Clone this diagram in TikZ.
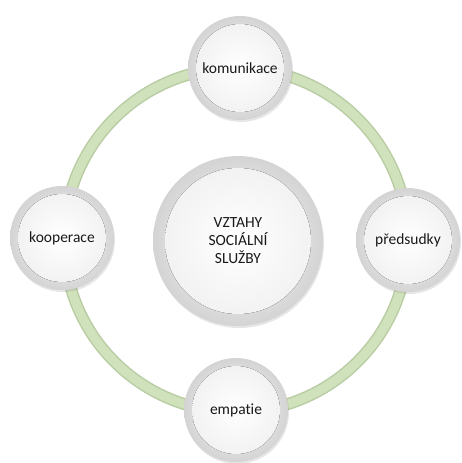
\documentclass[tikz,border=0pt]{standalone}
\usepackage{fontspec}
\setmainfont[Ligatures={NoCommon}]{Carlito}
\usetikzlibrary{shadows}
\definecolor{ringfill}{HTML}{D0E2BB}
\definecolor{ringedge}{HTML}{B9CCA3}
\tikzstyle{button}=[circle, inner sep=0pt, font=\fontsize{15}{18}\selectfont,
  align=center, text=black!85, drop shadow={shadow xshift=1pt, shadow yshift=-2pt, opacity=0.2},
  outer color=black!17, inner color=white]

\begin{document}
\begin{tikzpicture}[x=1pt, y=-1pt]
\useasboundingbox (0,0) rectangle (461,463);
% Ring
    \coordinate (mid) at (236,240);
    \draw[line width=12pt, ringedge] (mid) circle(172);
    \draw[line width=9pt, ringfill] (mid) circle(172);
% Buttons
    \node[button, minimum size=104pt] (kom) at (240,68) {};
    \node[button, minimum size=104pt] (pre) at (408,240) {};
    \node[button, minimum size=104pt] (emp) at (236,410) {};
    \node[button, minimum size=104pt] (koo) at (62,238) {};
    \node[button, minimum size=170pt] (vzt) at (238,241) {};
% Faces
    \fill[inner color=white, outer color=black!5] (kom) circle(44);
    \fill[inner color=white, outer color=black!5] (pre) circle(44);
    \fill[inner color=white, outer color=black!5] (emp) circle(44);
    \fill[inner color=white, outer color=black!5] (koo) circle(44);
    \fill[inner color=white, outer color=black!5] (vzt) circle(73);
% Labels
    \node[font=\fontsize{15.5}{18}\selectfont, text=black!90] at (kom) {komunikace};
    \node[font=\fontsize{15.5}{18}\selectfont, text=black!90] at (pre) {předsudky};
    \node[font=\fontsize{15.5}{18}\selectfont, text=black!90] at (emp) {empatie};
    \node[font=\fontsize{15.5}{18}\selectfont, text=black!90] at (koo) {kooperace};
    \node[font=\fontsize{15.5}{18}\selectfont, text=black!90, align=center] at (vzt) {VZTAHY\\SOCIÁLNÍ\\SLUŽBY};
\end{tikzpicture}
\end{document}
